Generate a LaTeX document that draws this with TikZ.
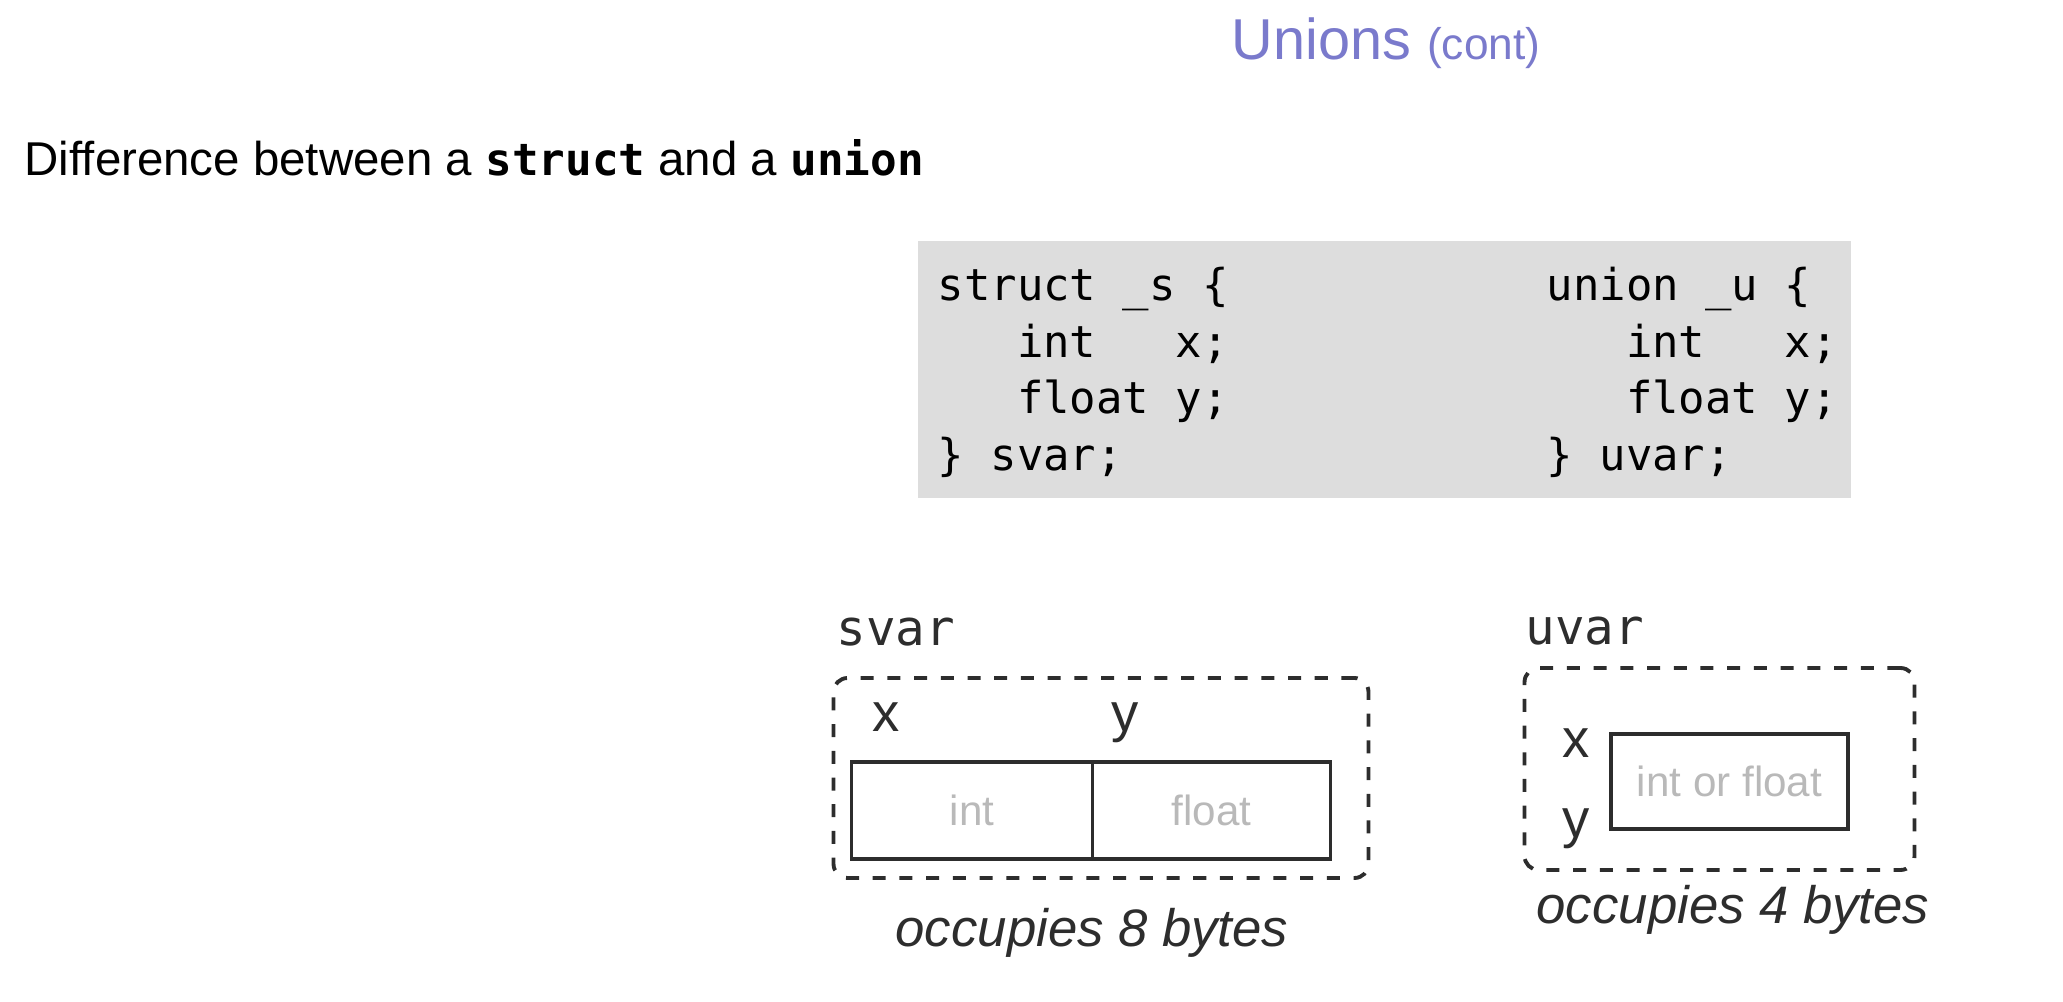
\documentclass[tikz,border=0pt]{standalone}
\usepackage{fontspec}
\setmainfont{Liberation Sans}
\setmonofont{DejaVu Sans Mono}
\usetikzlibrary{positioning}

\definecolor{titleblue}{RGB}{122,122,204}
\definecolor{codegray}{RGB}{221,221,221}
\definecolor{boxgray}{RGB}{185,185,185}
\definecolor{ink}{RGB}{45,45,45}

\newcommand{\kw}[1]{{\ttfamily\bfseries\fontsize{12.6}{15}\selectfont #1}}

\tikzset{
  code/.style={anchor=base west, inner sep=0pt, font=\fontsize{12.5}{15}\selectfont\ttfamily},
  varname/.style={anchor=base west, inner sep=0pt, text=ink, font=\fontsize{14}{16}\selectfont\ttfamily},
  field/.style={anchor=base west, inner sep=0pt, text=ink, font=\fontsize{15.5}{18}\selectfont},
  cell/.style={draw=ink, line width=1.1pt, inner sep=0pt, text=boxgray, font=\fontsize{12}{14}\selectfont},
  dashbox/.style={draw=ink, dash pattern=on 3.7pt off 3.9pt, line width=1.1pt, rounded corners=4pt, inner sep=0pt},
  note/.style={anchor=base, inner sep=0pt, text=ink, font=\fontsize{15}{18}\selectfont\itshape}
}

\begin{document}
\begin{tikzpicture}[x=0.1mm, y=-0.1mm]
  \useasboundingbox (0,0) rectangle (2063,1002); % размер как у картинки

  \node[anchor=base west, inner sep=0pt, text=titleblue, font=\fontsize{16.4}{20}\selectfont] (title) at (1231,60)
    {Unions {\fontsize{12.6}{15}\selectfont (cont)}};
  \node[anchor=base west, inner sep=0pt, font=\fontsize{13.5}{16}\selectfont] (head) at (24,176)
    {Difference between a \kw{struct} and a \kw{union}};

  \fill[codegray] (918,241) rectangle (1851,498); % серый фон кода
  \node[code] (s1) at (937,301)   {struct \_s \{};
  \node[code] (s2) at (937,357.5) {\ \ \ int\ \ \ x;};
  \node[code] (s3) at (937,414)   {\ \ \ float y;};
  \node[code] (s4) at (937,470.5) {\} svar;};
  \node[code] (u1) at (1546,301)   {union \_u \{};
  \node[code] (u2) at (1546,357.5) {\ \ \ int\ \ \ x;};
  \node[code] (u3) at (1546,414)   {\ \ \ float y;};
  \node[code] (u4) at (1546,470.5) {\} uvar;};

  % struct: два поля подряд
  \node[varname] (svar) at (836,646) {svar};
  \node[dashbox, minimum width=53.5mm, minimum height=20mm] (sbox) at (1101,778) {};
  \node[field] (sx) at (872,732) {x};
  \node[field] (sy) at (1111,732) {y};
  \node[cell, minimum width=24.1mm, minimum height=9.7mm] (sint) at (972,810.5) {int};
  \node[cell, minimum width=23.8mm, minimum height=9.7mm] (sfloat) at (1211.5,810.5) {float};
  \node[note] (s8) at (1092,947) {occupies 8 bytes};

  % union: одно поле на двоих
  \node[varname] (uvar) at (1525,645) {uvar};
  \node[dashbox, minimum width=39mm, minimum height=20.2mm] (ubox) at (1719.5,769) {};
  \node[field] (ux) at (1562,758) {x};
  \node[field] (uy) at (1562,838) {y};
  \node[cell, minimum width=23.7mm, minimum height=9.5mm] (uboth) at (1729.5,781.5) {int or float};
  \node[note] (u4b) at (1733,924) {occupies 4 bytes};
\end{tikzpicture}
\end{document}
